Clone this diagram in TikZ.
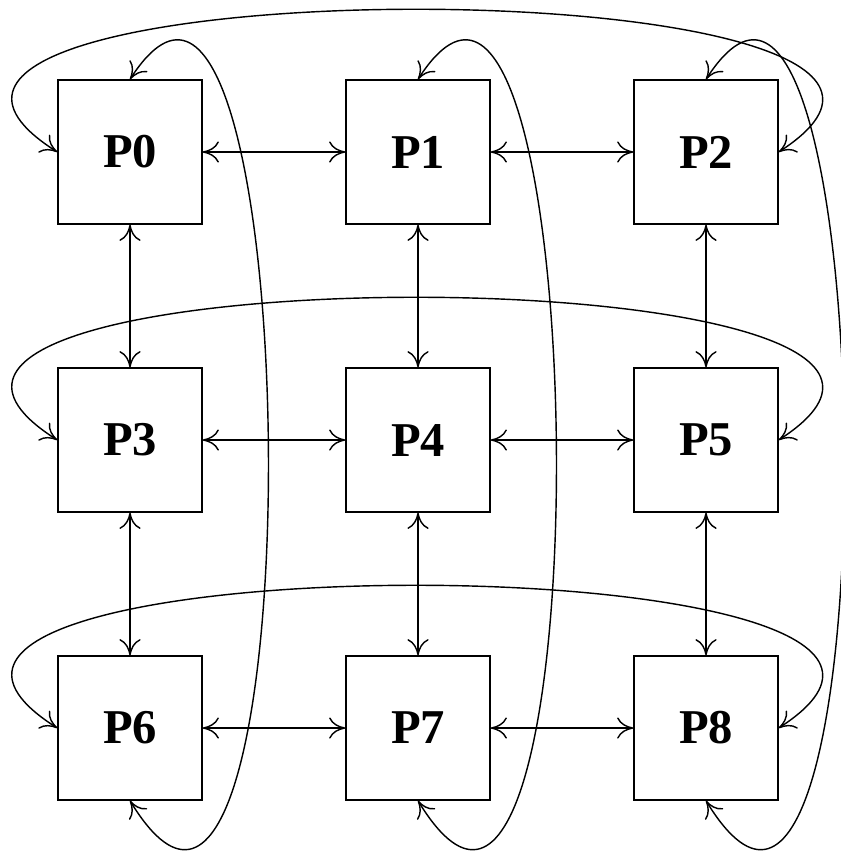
\documentclass[tikz,border=0pt]{standalone}
\usepackage{fontspec}
\setmainfont{Liberation Serif}
\usetikzlibrary{arrows.meta}

\tikzset{
  proc/.style={draw, line width=0.7pt, minimum size=2.5cm, inner sep=0pt,
    font=\fontsize{24}{28}\selectfont\bfseries},
  link/.style={<->, line width=0.7pt}
}

\begin{document}
\begin{tikzpicture}[>={To[length=8pt,width=10.5pt]}]
\useasboundingbox (-2.257,-2.135) rectangle (12.343,12.639);

\node[proc] (p0) at (0,10) {P0};
\node[proc] (p1) at (5,10) {P1};
\node[proc] (p2) at (10,10) {P2};
\node[proc] (p3) at (0,5) {P3};
\node[proc] (p4) at (5,5) {P4};
\node[proc] (p5) at (10,5) {P5};
\node[proc] (p6) at (0,0) {P6};
\node[proc] (p7) at (5,0) {P7};
\node[proc] (p8) at (10,0) {P8};

% rows
\draw[link] (p0.east) -- (p1.west);
\draw[link] (p1.east) -- (p2.west);
\draw[link] (p3.east) -- (p4.west);
\draw[link] (p4.east) -- (p5.west);
\draw[link] (p6.east) -- (p7.west);
\draw[link] (p7.east) -- (p8.west);

% columns
\draw[link] (p0.south) -- (p3.north);
\draw[link] (p3.south) -- (p6.north);
\draw[link] (p1.south) -- (p4.north);
\draw[link] (p4.south) -- (p7.north);
\draw[link] (p2.south) -- (p5.north);
\draw[link] (p5.south) -- (p8.north);

% wrap around
\draw[link] (p0.west) .. controls +(-5.2,3.3) and +(5.1,3.3) .. (p2.east);
\draw[link] (p3.west) .. controls +(-5.2,3.3) and +(5.1,3.3) .. (p5.east);
\draw[link] (p6.west) .. controls +(-5.2,3.3) and +(5.1,3.3) .. (p8.east);
\draw[link] (p0.north) .. controls +(3.1,4.8) and +(3.3,-5.4) .. (p6.south);
\draw[link] (p1.north) .. controls +(3.1,4.8) and +(3.3,-5.4) .. (p7.south);
\draw[link] (p2.north) .. controls +(3.1,4.8) and +(3.3,-5.4) .. (p8.south);
\end{tikzpicture}
\end{document}
